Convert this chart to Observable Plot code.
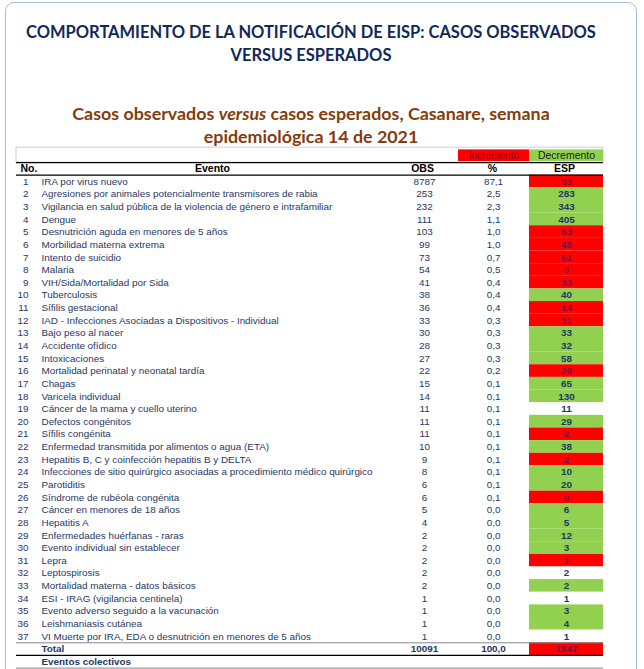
<!DOCTYPE html>
<html><head><meta charset="utf-8">
<script src="https://cdn.jsdelivr.net/npm/d3@7"></script>
<script src="https://cdn.jsdelivr.net/npm/@observablehq/plot@0.6"></script>
<style>
html,body{margin:0;padding:0;background:#fff;}
#page{position:relative;width:644px;height:669px;overflow:hidden;background:#fff;}
#frame{position:absolute;left:5px;top:2px;width:632px;height:720px;border:1px solid #a9bcd5;border-radius:9px;box-sizing:border-box;}
.t{position:absolute;left:0;width:622px;text-align:center;white-space:nowrap;font-family:Lato,"Open Sans",sans-serif;font-weight:bold;}
.title{color:#10295a;}
.sub{color:#843c0c;}
#chart{position:absolute;left:0;top:140px;}
</style>
</head><body>
<div id="page">
  <div id="frame"></div>
  <div class="t title" id="t1">COMPORTAMIENTO DE LA NOTIFICACIÓN DE EISP: CASOS OBSERVADOS</div>
  <div class="t title" id="t2">VERSUS ESPERADOS</div>
  <div class="t sub" id="s1">Casos observados <i>versus</i> casos esperados, Casanare, semana</div>
  <div class="t sub" id="s2">epidemiológica 14 de 2021</div>
  <div id="chart"></div>
</div>
<script>
// ---- data ----
const nums = [1,2,3,4,5,6,7,8,9,10,11,12,13,14,15,16,17,18,19,20,21,22,23,24,25,26,27,28,29,30,31,32,33,34,35,36,37];
const eventos = [
  "IRA por virus nuevo",
  "Agresiones por animales potencialmente transmisores de rabia",
  "Vigilancia en salud pública de la violencia de género e intrafamiliar",
  "Dengue",
  "Desnutrición aguda en menores de 5 años",
  "Morbilidad materna extrema",
  "Intento de suicidio",
  "Malaria",
  "VIH/Sida/Mortalidad por Sida",
  "Tuberculosis",
  "Sífilis gestacional",
  "IAD - Infecciones Asociadas a Dispositivos - Individual",
  "Bajo peso al nacer",
  "Accidente ofídico",
  "Intoxicaciones",
  "Mortalidad perinatal y neonatal tardía",
  "Chagas",
  "Varicela individual",
  "Cáncer de la mama y cuello uterino",
  "Defectos congénitos",
  "Sífilis congénita",
  "Enfermedad transmitida por alimentos o agua (ETA)",
  "Hepatitis B, C y coinfección hepatitis B y DELTA",
  "Infecciones de sitio quirúrgico asociadas a procedimiento médico quirúrgico",
  "Parotiditis",
  "Síndrome de rubéola congénita",
  "Cáncer en menores de 18 años",
  "Hepatitis A",
  "Enfermedades huérfanas - raras",
  "Evento individual sin establecer",
  "Lepra",
  "Leptospirosis",
  "Mortalidad materna - datos básicos",
  "ESI - IRAG (vigilancia centinela)",
  "Evento adverso seguido a la vacunación",
  "Leishmaniasis cutánea",
  "VI Muerte por IRA, EDA o desnutrición en menores de 5 años"
];
const obs = [8787,253,232,111,103,99,73,54,41,38,36,33,30,28,27,22,15,14,11,11,11,10,9,8,6,6,5,4,2,2,2,2,2,1,1,1,1];
const pct = ["87,1","2,5","2,3","1,1","1,0","1,0","0,7","0,5","0,4","0,4","0,4","0,3","0,3","0,3","0,3","0,2","0,1","0,1","0,1","0,1","0,1","0,1","0,1","0,1","0,1","0,1","0,0","0,0","0,0","0,0","0,0","0,0","0,0","0,0","0,0","0,0","0,0"];
const esp = [33,283,343,405,63,45,61,3,33,40,14,11,33,32,58,20,65,130,11,29,2,38,2,10,20,0,6,5,12,3,1,2,2,1,3,4,1];
const estado = ["inc","dec","dec","dec","inc","inc","inc","inc","inc","dec","inc","inc","dec","dec","dec","inc","dec","dec","eq","dec","inc","dec","inc","dec","dec","inc","dec","dec","dec","dec","inc","eq","dec","eq","dec","dec","eq"];
const totalLabel = "Total";
const totalObs = 10091;
const totalPct = "100,0";
const totalEsp = 1847;
const totalEstado = "inc";
const colectivosLabel = "Eventos colectivos";
const headers = {no:"No.", evento:"Evento", obs:"OBS", pct:"%", esp:"ESP"};
const leyenda = [{label:"Incremento", estado:"inc"}, {label:"Decremento", estado:"dec"}];

// ---- titles fitted to width ----
const cv = document.createElement("canvas").getContext("2d");
function fit(text, target, style) {
  cv.font = `${style||""} bold 100px Lato`;
  return 100 * target / cv.measureText(text).width;
}
const ts = fit("COMPORTAMIENTO DE LA NOTIFICACIÓN DE EISP: CASOS OBSERVADOS", 571);
const ss = fit("Casos observados versus casos esperados, Casanare, semana", 481);
function place(id, size, center) {
  const el = document.getElementById(id);
  el.style.fontSize = size + "px";
  el.style.lineHeight = "24px";
  el.style.top = (center - 12) + "px";
}
place("t1", ts, 32); place("t2", ts, 55);
place("s1", ss, 113); place("s2", ss, 136);

// ---- table ----
const rows = eventos.map((e, i) => ({no: nums[i], evento: e, obs: obs[i], pct: pct[i], esp: esp[i], estado: estado[i], r: i + 1}));
const total = [{label: totalLabel, obs: totalObs, pct: totalPct, esp: totalEsp, estado: totalEstado, r: rows.length + 1}];
const colectivos = [{label: colectivosLabel, r: rows.length + 2}];
const espRows = rows.concat(total);
const str = k => d => String(d[k]);

// column layout (pixels)
const C = {left:16, right:603, no:28, noHead:20, evento:41, eventoHead:212, obs:424, pct:493, espL:529, espR:603, esp:566, incL:458};
const legX = {inc:[C.incL, C.espL], dec:[C.espL, C.espR]};
const navy = "#1f3864";
const redText = "#7a1040";

const chart = Plot.plot({
  width: 644, height: 529, margin: 0,
  x: {domain: [0, 644], range: [0, 644], axis: null},
  y: {domain: [-1.5, 39.5], range: [9.4, 527.6], axis: null},
  color: {domain: ["inc","dec","eq"], range: ["#ff0000","#92d050","#ffffff"]},
  style: {fontFamily: "'Liberation Sans', Arial, sans-serif", fontSize: "9.9px", background: "transparent", overflow: "visible"},
  marks: [
    Plot.rect([0], {x1: C.left, x2: C.right, y1: -1.68, y2: -0.5, stroke: "#d0d0d0", fill: "none"}),
    Plot.rect(leyenda, {x1: d => legX[d.estado][0], x2: d => legX[d.estado][1], y1: -1.5, y2: -0.58, fill: "estado"}),
    Plot.text(leyenda.filter(d => d.estado === "inc"), {x: d => (legX[d.estado][0] + legX[d.estado][1]) / 2, y: -1.04, text: "label", fill: "#8b0000", fontSize: 10}),
    Plot.text(leyenda.filter(d => d.estado === "dec"), {x: d => (legX[d.estado][0] + legX[d.estado][1]) / 2, y: -1.04, text: "label", fill: "#1a1a1a", fontSize: 10.5}),
    Plot.rect(espRows, {x1: C.espL, x2: C.espR, y1: d => d.r - 0.5, y2: d => d.r + 0.5, fill: "estado"}),
    Plot.ruleY([-0.5, 0.5], {x1: C.left, x2: C.right, stroke: "#000", strokeWidth: 1.3}),
    Plot.ruleY([rows.length + 0.5, rows.length + 2.5], {x1: C.left, x2: C.right, stroke: "#888", strokeWidth: 1}),
    Plot.ruleY([rows.length + 1.5], {x1: C.left, x2: C.right, stroke: "#000", strokeWidth: 1.3}),
    // headers
    Plot.text([headers], {x: C.noHead, y: 0, text: "no", textAnchor: "start", fontWeight: "bold", fill: "#000", fontSize: 10.5}),
    Plot.text([headers], {x: C.eventoHead, y: 0, text: "evento", fontWeight: "bold", fill: "#000", fontSize: 10.5}),
    Plot.text([headers], {x: C.obs - 2, y: 0, text: "obs", fontWeight: "bold", fill: "#000", fontSize: 10.5}),
    Plot.text([headers], {x: C.pct - 1, y: 0, text: "pct", fontWeight: "bold", fill: "#000", fontSize: 10.5}),
    Plot.text([headers], {x: C.esp - 2, y: 0, text: "esp", fontWeight: "bold", fill: "#000", fontSize: 10.5}),
    // rows
    Plot.text(rows, {x: C.no, y: "r", text: str("no"), textAnchor: "end", fill: navy}),
    Plot.text(rows, {x: C.evento, y: "r", text: "evento", textAnchor: "start", fill: navy}),
    Plot.text(rows, {x: C.obs, y: "r", text: str("obs"), fill: navy}),
    Plot.text(rows, {x: C.pct, y: "r", text: "pct", fill: navy}),
    Plot.text(espRows.filter(d => d.estado !== "inc"), {x: C.esp, y: "r", text: str("esp"), fill: navy, fontWeight: "bold"}),
    Plot.text(espRows.filter(d => d.estado === "inc"), {x: C.esp, y: "r", text: str("esp"), fill: redText, fontWeight: "bold"}),
    // total & colectivos
    Plot.text(total, {x: C.evento, y: "r", text: "label", textAnchor: "start", fill: navy, fontWeight: "bold"}),
    Plot.text(total, {x: C.obs, y: "r", text: str("obs"), fill: navy, fontWeight: "bold"}),
    Plot.text(total, {x: C.pct, y: "r", text: "pct", fill: navy, fontWeight: "bold"}),
    Plot.text(colectivos, {x: C.evento, y: "r", text: "label", textAnchor: "start", fill: navy, fontWeight: "bold"})
  ]
});
document.getElementById("chart").appendChild(chart);
</script>
</body></html>
